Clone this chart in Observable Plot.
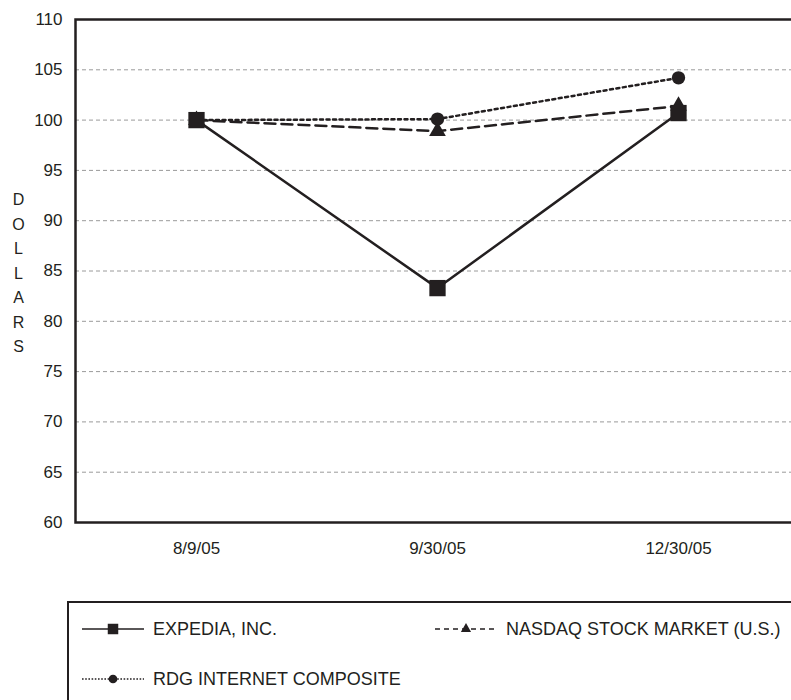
<!DOCTYPE html>
<html>
<head>
<meta charset="utf-8">
<script src="https://cdn.jsdelivr.net/npm/d3@7"></script>
<script src="https://cdn.jsdelivr.net/npm/@observablehq/plot@0.6"></script>
<style>
  html, body { margin: 0; padding: 0; background: #fff; overflow: hidden; }
  #wrap { position: relative; width: 791px; height: 700px; overflow: hidden; }
  #chart { width: 798px; }
  #chart svg { max-width: none !important; }
  #legend { position: absolute; left: 67px; top: 601px; width: 760px; height: 140px;
            border: 2.5px solid #231f20; box-sizing: border-box; }
</style>
</head>
<body>
<div id="wrap">
  <div id="chart"></div>
  <div id="legend"></div>
</div>
<script>
const dates = ["8/9/05", "9/30/05", "12/30/05"];
const expedia = [100, 83.3, 100.7];
const nasdaq = [100, 98.9, 101.4];
const rdg = [100, 100.1, 104.2];
const yTicks = [60, 65, 70, 75, 80, 85, 90, 95, 100, 105, 110];
const gridTicks = [65, 70, 75, 80, 85, 90, 95, 100, 105];
const seriesNames = ["EXPEDIA, INC.", "NASDAQ STOCK MARKET (U.S.)", "RDG INTERNET COMPOSITE"];
const axisTitle = "DOLLARS";

const ink = "#231f20";
const rows = (vals) => dates.map((d, i) => ({date: d, value: vals[i]}));
const dE = rows(expedia), dN = rows(nasdaq), dR = rows(rdg);

const chart = Plot.plot({
  width: 798,
  height: 600,
  marginLeft: 75,
  marginRight: 0,
  marginTop: 19,
  marginBottom: 78,
  style: {fontFamily: "'Liberation Sans', Arial, sans-serif", fontSize: "17px", color: ink, background: "#fff", maxWidth: "none"},
  x: {type: "point", domain: dates, padding: 0.5, label: null, tickSize: 0, tickPadding: 19},
  y: {domain: [60, 110], ticks: yTicks, label: null, tickSize: 0, tickPadding: 13},
  marks: [
    Plot.ruleY(gridTicks, {stroke: "#9a9a9a", strokeWidth: 1, strokeDasharray: "4,3"}),
    Plot.frame({stroke: ink, strokeWidth: 2.5}),
    Plot.text([axisTitle.split("").join("\n")], {frameAnchor: "left", dx: -57, textAnchor: "middle", lineHeight: 1.53, fontSize: 16, fill: ink}),
    Plot.line(dR, {x: "date", y: "value", stroke: ink, strokeWidth: 2.5, strokeDasharray: "3,3.5"}),
    Plot.line(dN, {x: "date", y: "value", stroke: ink, strokeWidth: 2.5, strokeDasharray: "11,6"}),
    Plot.line(dE, {x: "date", y: "value", stroke: ink, strokeWidth: 2.5}),
    Plot.dot(dN, {x: "date", y: "value", symbol: "triangle", r: 6.2, fill: ink, stroke: "none"}),
    Plot.dot(dR, {x: "date", y: "value", symbol: "circle", r: 6.7, fill: ink, stroke: "none"}),
    Plot.dot(dE, {x: "date", y: "value", symbol: "square", r: 9.2, fill: ink, stroke: "none"})
  ]
});
document.getElementById("chart").appendChild(chart);

// Legend
const lg = d3.select("#legend").append("svg").attr("width", 760).attr("height", 140)
  .style("font-family", "'Liberation Sans', Arial, sans-serif").style("font-size", "18px");
const entries = [
  {name: seriesNames[0], x: 13, y: 26, dash: null, w: 1.6, sym: d3.symbolSquare, size: 110},
  {name: seriesNames[1], x: 366, y: 26, dash: "5,4", w: 1.6, sym: d3.symbolTriangle, size: 45},
  {name: seriesNames[2], x: 13, y: 76, dash: "1.6,1.6", w: 1.6, sym: d3.symbolCircle, size: 60}
];
entries.forEach(e => {
  const g = lg.append("g").attr("transform", `translate(${e.x},${e.y})`);
  g.append("line").attr("x1", 0).attr("x2", 62).attr("y1", 0).attr("y2", 0)
    .attr("stroke", ink).attr("stroke-width", e.w).attr("stroke-dasharray", e.dash);
  g.append("path").attr("d", d3.symbol(e.sym, e.size)()).attr("transform", "translate(31,0)").attr("fill", ink);
  g.append("text").attr("x", 71).attr("y", 0).attr("dy", "0.36em").attr("fill", ink).text(e.name);
});
</script>
</body>
</html>
